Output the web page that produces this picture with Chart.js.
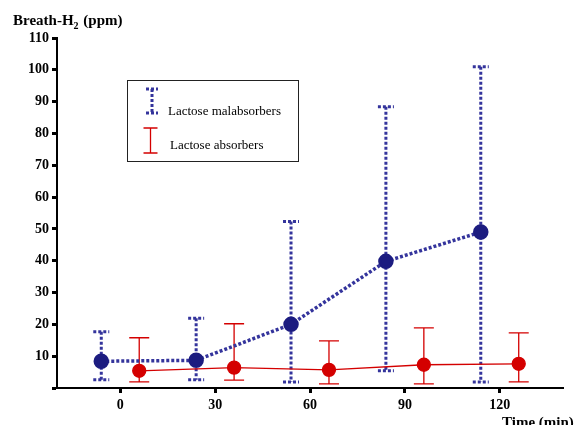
<!DOCTYPE html>
<html>
<head>
<meta charset="utf-8">
<script src="https://cdn.jsdelivr.net/npm/chart.js@4"></script>
<style>
  html, body { margin: 0; padding: 0; background: #fff; }
  #wrap { width: 574px; height: 425px; }
</style>
</head>
<body>
<div id="wrap"><canvas id="myChart" width="574" height="425"></canvas></div>
<script>
// time points (min) - groups shifted a little left/right of the real time
const xTicks = [0, 30, 60, 90, 120];
const malX = [-6, 24, 54, 84, 114];
const absX = [6, 36, 66, 96, 126];

// breath H2 (ppm), mean and range
const malY    = [8.4, 8.7, 20, 39.8, 49];
const malLow  = [2.6, 2.6, 1.9, 5.4, 1.9];
const malHigh = [17.7, 21.9, 52.3, 88.4, 101];

const absY    = [5.4, 6.4, 5.7, 7.3, 7.6];
const absLow  = [1.9, 2.5, 1.3, 1.3, 1.9];
const absHigh = [15.8, 20.2, 14.8, 18.9, 17.3];

const labels = ['Lactose malabsorbers', 'Lactose absorbers'];

const BLUE = '#34349c';
const NAVY = '#1c1c80';
const RED = '#d40000';
const serif = '"Liberation Serif", "Times New Roman", serif';

const toPts = (xs, ys) => xs.map((x, i) => ({ x: x, y: ys[i] }));

// draw an I-bar, dotted or solid
const iBar = (ctx, x, yTop, yBot, half, color, dotted, lw) => {
    ctx.save();
    ctx.strokeStyle = color;
    ctx.lineWidth = lw;
    if (dotted) ctx.setLineDash([3, 2]);
    ctx.beginPath();
    ctx.moveTo(x, yTop); ctx.lineTo(x, yBot);
    ctx.moveTo(x - half, yTop); ctx.lineTo(x + half, yTop);
    ctx.moveTo(x - half, yBot); ctx.lineTo(x + half, yBot);
    ctx.stroke();
    ctx.restore();
};

const errorBars = {
    id: 'errorBars',
    beforeDatasetsDraw(chart) {
        const ctx = chart.ctx;
        const xs = chart.scales.x, ys = chart.scales.y;
        malX.forEach((x, i) => {
            iBar(ctx, xs.getPixelForValue(x), ys.getPixelForValue(malHigh[i]),
                ys.getPixelForValue(malLow[i]), 8, BLUE, true, 3);
        });
        absX.forEach((x, i) => {
            iBar(ctx, xs.getPixelForValue(x), ys.getPixelForValue(absHigh[i]),
                ys.getPixelForValue(absLow[i]), 10, RED, false, 1.3);
        });
    }
};

const extras = {
    id: 'extras',
    afterDraw(chart) {
        const ctx = chart.ctx;
        ctx.save();
        ctx.fillStyle = '#000';
        ctx.textBaseline = 'alphabetic';
        // y title with subscript
        ctx.font = 'bold 15px ' + serif;
        ctx.fillText('Breath-H', 13, 25);
        let w = ctx.measureText('Breath-H').width;
        ctx.font = 'bold 10px ' + serif;
        ctx.fillText('2', 13 + w, 29);
        let w2 = ctx.measureText('2').width;
        ctx.font = 'bold 15px ' + serif;
        ctx.fillText(' (ppm)', 13 + w + w2 + 1, 25);
        // x title
        ctx.textBaseline = 'middle';
        ctx.fillText('Time (min)', 502, 423);

        // legend box
        ctx.strokeStyle = '#222';
        ctx.lineWidth = 1;
        ctx.strokeRect(127.5, 80.5, 171, 81);
        iBar(ctx, 152, 89, 113, 6, BLUE, true, 3);
        iBar(ctx, 150.5, 128, 153, 7, RED, false, 1.3);
        ctx.font = '13px ' + serif;
        ctx.fillText(labels[0], 168, 112);
        ctx.fillText(labels[1], 170, 146);
        ctx.restore();
    }
};

const tickFont = { family: serif, size: 14, weight: 'bold' };

new Chart(document.getElementById('myChart'), {
    type: 'line',
    data: {
        datasets: [{
            label: labels[0],
            data: toPts(malX, malY),
            borderColor: BLUE,
            borderWidth: 3.5,
            borderDash: [3, 2],
            pointRadius: 6,
            pointBackgroundColor: NAVY,
            pointBorderColor: NAVY,
            tension: 0
        }, {
            label: labels[1],
            data: toPts(absX, absY),
            borderColor: RED,
            borderWidth: 1.3,
            pointRadius: 6.5,
            pointBackgroundColor: RED,
            pointBorderColor: RED,
            tension: 0
        }]
    },
    options: {
        responsive: false,
        animation: false,
        layout: { padding: { top: 38, right: 11, left: 0, bottom: 0 } },
        plugins: { legend: { display: false }, tooltip: { enabled: false } },
        scales: {
            x: {
                type: 'linear',
                min: -20, max: 140,
                afterBuildTicks: (s) => { s.ticks = xTicks.map(v => ({ value: v })); },
                afterFit: (s) => { s.height = 37; },
                ticks: { color: '#000', font: tickFont, padding: 4, maxRotation: 0 },
                grid: { drawOnChartArea: false, tickLength: 5, tickWidth: 3, tickColor: '#000' },
                border: { display: true, color: '#000', width: 2 }
            },
            y: {
                min: 0, max: 110,
                afterFit: (s) => { s.width = 57; },
                ticks: {
                    stepSize: 10, color: '#000', font: tickFont, padding: 3,
                    callback: (v) => v === 0 ? '' : v
                },
                grid: { drawOnChartArea: false, tickLength: 5, tickWidth: 3, tickColor: '#000' },
                border: { display: true, color: '#000', width: 2 }
            }
        }
    },
    plugins: [errorBars, extras]
});
</script>
</body>
</html>
